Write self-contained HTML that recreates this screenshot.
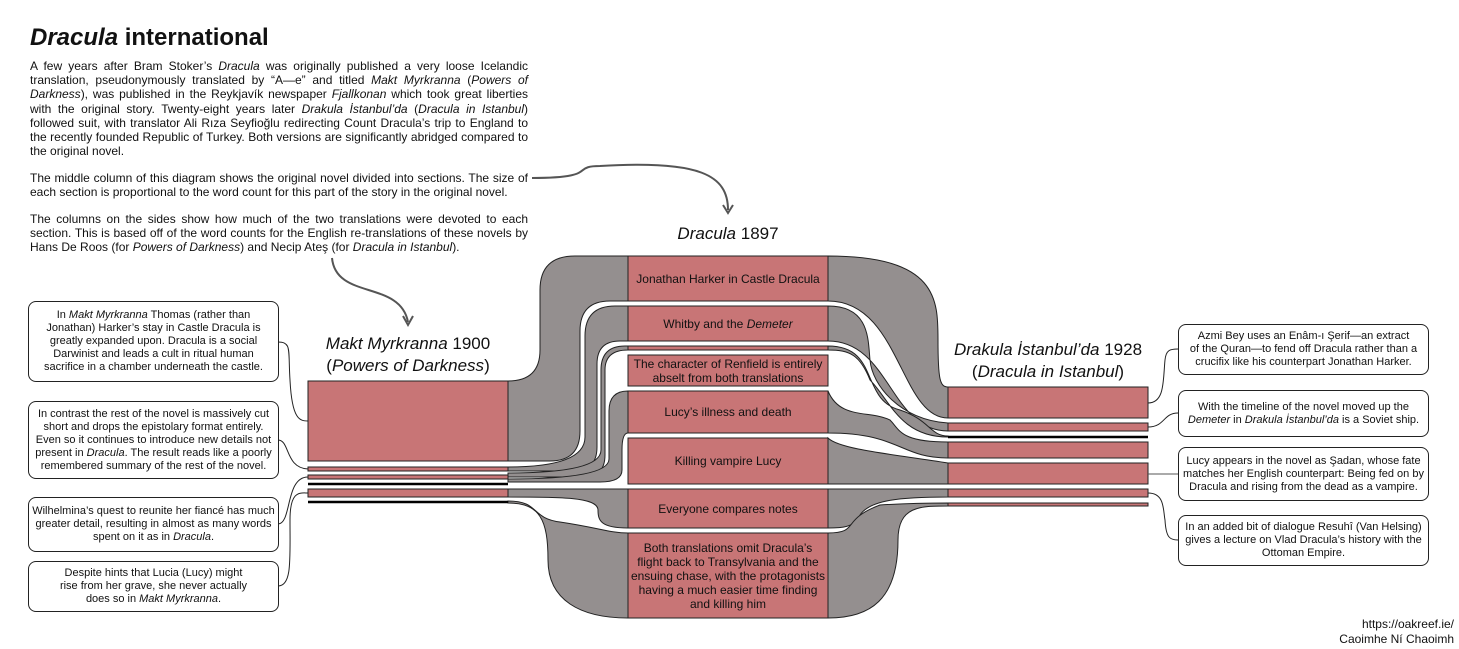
<!DOCTYPE html>
<html><head><meta charset="utf-8"><style>
body{margin:0;background:#fff;width:1459px;height:649px;overflow:hidden;font-family:"Liberation Sans",Arial,sans-serif;color:#111}
.t{position:absolute;left:30px;width:498px;font-size:12px;line-height:14.2px;text-align:justify}
.note{position:absolute;width:251px;border:1px solid #222;border-radius:8px;font-size:11px;line-height:13px;text-align:center;box-sizing:border-box;display:table;padding:0 3px;background:#fff}
.note>div{display:table-cell;vertical-align:middle}
.lbl{position:absolute;text-align:center;display:flex;align-items:center;justify-content:center;line-height:14px;color:#111;font-size:12px}
h1{position:absolute;left:30px;top:24px;margin:0;font-size:24px}
.ct{position:absolute;text-align:center;font-size:17px;line-height:22px}
</style></head><body>
<svg width="1459" height="649" style="position:absolute;left:0;top:0">
<g fill="#948f8f" stroke="#222" stroke-width="1">
<path d="M508,381 Q540,381 540,350 L540,290 Q540,256 575,256 L628,256 L628,301 L610,301 Q580,301 580,331 L580,431 Q580,461 550,461 L508,461 Z"/>
<path d="M508,467 Q585,467 585,437 L585,336 Q585,306 615,306 L628,306 L628,341 L620,341 Q597,341 597,364 L597,447 Q597,471 573,471 L508,471 Z"/>
<path d="M508,473 Q601,473 601,450 L601,370 Q601,346 625,346 L628,346 L628,350 Q605,350 605,370 L605,455 Q605,477 583,477 L508,477 Z"/>
<path d="M508,479 Q609,479 609,459 L609,411 Q609,391 628,391 L628,433 Q622,433 622,450 L622,470 Q622,482 600,482 L508,482 Z"/>
<path d="M508,489 L628,489 L628,528 C600,528 598,520 598,510 C598,497 560,497 508,497 Z"/>
<path d="M508,501 C540,501 530,518 560,522 C600,528 610,533 628,533 L628,618 C580,618 548,600 548,560 C548,520 540,503 508,503 Z"/>
<path d="M828,256 C938,256 938,300 938,340 C938,380 940,387 948,387 L948,418 C900,418 900,301 828,301 Z"/>
<path d="M828,306 C870,306 868,340 870,360 C872,385 900,420 948,423 L948,431 C890,431 890,341 828,341 Z"/>
<path d="M828,346 C880,346 860,400 900,410 C930,420 930,436 948,436 L948,437 C900,437 890,400 870,380 C860,355 850,350 828,350 Z"/>
<path d="M828,391 C840,420 870,410 890,420 C900,430 900,442 948,442 L948,458 C900,458 900,433 828,433 Z"/>
<path d="M828,438 C840,450 900,455 948,463 L948,484 L828,484 Z"/>
<path d="M828,489 L948,489 L948,497 C900,497 870,500 860,515 C855,528 840,528 828,528 Z"/>
<path d="M828,533 C860,533 840,520 880,505 C910,503 930,503 948,503 L948,506 C920,506 898,506 898,540 C898,600 870,618 828,618 Z"/>
</g>
<g fill="#c87576" stroke="#222" stroke-width="1">
<rect x="628" y="256" width="200" height="45"/><rect x="628" y="306" width="200" height="35"/>
<rect x="628" y="346" width="200" height="4"/>
<rect x="628" y="355" width="200" height="31"/><rect x="628" y="391" width="200" height="42"/>
<rect x="628" y="438" width="200" height="46"/><rect x="628" y="489" width="200" height="39"/>
<rect x="628" y="533" width="200" height="85"/>
<rect x="308" y="381" width="200" height="80"/><rect x="308" y="467" width="200" height="4"/>
<rect x="308" y="475" width="200" height="4"/><rect x="308" y="489" width="200" height="8"/>
<rect x="948" y="387" width="200" height="31"/><rect x="948" y="423" width="200" height="8"/>
<rect x="948" y="442" width="200" height="16"/><rect x="948" y="463" width="200" height="21"/>
<rect x="948" y="489" width="200" height="8"/><rect x="948" y="503" width="200" height="3"/>
</g>
<g stroke="#000" stroke-width="2.5"><line x1="308" y1="484" x2="508" y2="484"/><line x1="308" y1="502" x2="508" y2="502"/><line x1="948" y1="437" x2="1148" y2="437"/></g>
<g fill="none" stroke="#222" stroke-width="1">
<path d="M278,342 C292,342 288,350 290,380 C292,420 300,421 308,421"/>
<path d="M278,440 C290,440 285,468 308,469"/>
<path d="M278,524 C292,524 285,477 308,477"/>
<path d="M278,586 C292,586 290,560 290,520 C290,490 300,493 308,493"/>
<path d="M1148,403 C1165,403 1163,380 1165,360 C1166,350 1170,349 1178,349"/>
<path d="M1148,427 C1165,427 1163,413 1178,413"/>
<path d="M1148,474 L1178,474" stroke="#555"/>
<path d="M1148,493 C1165,493 1163,510 1165,520 C1166,538 1170,540 1178,540"/>
</g>
<g fill="none" stroke="#555" stroke-width="2">
<path d="M532,178 C600,178 570,166 600,166 C700,160 728,175 728,210"/>
<path d="M723,205 L728,213 L733,205"/>
<path d="M332,258 C336,300 400,280 408,322"/>
<path d="M403,316 L408,325 L413,316"/>
</g>
</svg>
<h1><i>Dracula</i> international</h1>
<div class="t" style="top:59px">A few years after Bram Stoker’s <i>Dracula</i> was originally published a very loose Icelandic translation, pseudonymously translated by “A—e” and titled <i>Makt Myrkranna</i> (<i>Powers of Darkness</i>), was published in the Reykjavík newspaper <i>Fjallkonan</i> which took great liberties with the original story. Twenty-eight years later <i>Drakula İstanbul’da</i> (<i>Dracula in Istanbul</i>) followed suit, with translator Ali Rıza Seyfioğlu redirecting Count Dracula’s trip to England to the recently founded Republic of Turkey. Both versions are significantly abridged compared to the original novel.</div>
<div class="t" style="top:171px">The middle column of this diagram shows the original novel divided into sections. The size of each section is proportional to the word count for this part of the story in the original novel.</div>
<div class="t" style="top:212px">The columns on the sides show how much of the two translations were devoted to each section. This is based off of the word counts for the English re-translations of these novels by Hans De Roos (for <i>Powers of Darkness</i>) and Necip Ateş (for <i>Dracula in Istanbul</i>).</div>
<div class="ct" style="left:628px;width:200px;top:223px"><i>Dracula</i> 1897</div>
<div class="ct" style="left:298px;width:220px;top:333px"><i>Makt Myrkranna</i> 1900<br>(<i>Powers of Darkness</i>)</div>
<div class="ct" style="left:938px;width:220px;top:339px"><i>Drakula İstanbul’da</i> 1928<br>(<i>Dracula in Istanbul</i>)</div>
<div class="lbl" style="left:628px;width:200px;top:256px;height:45px">Jonathan Harker in Castle Dracula</div>
<div class="lbl" style="left:628px;width:200px;top:306px;height:35px"><span>Whitby and the <i>Demeter</i></span></div>
<div class="lbl" style="left:628px;width:200px;top:355px;height:31px">The character of Renfield is entirely<br>abselt from both translations</div>
<div class="lbl" style="left:628px;width:200px;top:391px;height:42px">Lucy’s illness and death</div>
<div class="lbl" style="left:628px;width:200px;top:438px;height:46px">Killing vampire Lucy</div>
<div class="lbl" style="left:628px;width:200px;top:489px;height:39px">Everyone compares notes</div>
<div class="lbl" style="left:628px;width:200px;top:533px;height:85px">Both translations omit Dracula’s<br>flight back to Transylvania and the<br>ensuing chase, with the protagonists<br>having a much easier time finding<br>and killing him</div>
<div class="note" style="left:28px;top:301px;height:81px"><div>In <i>Makt Myrkranna</i> Thomas (rather than<br>Jonathan) Harker’s stay in Castle Dracula is<br>greatly expanded upon. Dracula is a social<br>Darwinist and leads a cult in ritual human<br>sacrifice in a chamber underneath the castle.</div></div>
<div class="note" style="left:28px;top:401px;height:78px"><div>In contrast the rest of the novel is massively cut<br>short and drops the epistolary format entirely.<br>Even so it continues to introduce new details not<br>present in <i>Dracula</i>. The result reads like a poorly<br>remembered summary of the rest of the novel.</div></div>
<div class="note" style="left:28px;top:497px;height:55px"><div>Wilhelmina’s quest to reunite her fiancé has much<br>greater detail, resulting in almost as many words<br>spent on it as in <i>Dracula</i>.</div></div>
<div class="note" style="left:28px;top:561px;height:51px"><div>Despite hints that Lucia (Lucy) might<br>rise from her grave, she never actually<br>does so in <i>Makt Myrkranna</i>.</div></div>
<div class="note" style="left:1178px;top:324px;height:51px"><div>Azmi Bey uses an Enâm-ı Şerif—an extract<br>of the Quran—to fend off Dracula rather than a<br>crucifix like his counterpart Jonathan Harker.</div></div>
<div class="note" style="left:1178px;top:390px;height:47px"><div>With the timeline of the novel moved up the<br><i>Demeter</i> in <i>Drakula İstanbul’da</i> is a Soviet ship.</div></div>
<div class="note" style="left:1178px;top:447px;height:54px"><div>Lucy appears in the novel as Şadan, whose fate<br>matches her English counterpart: Being fed on by<br>Dracula and rising from the dead as a vampire.</div></div>
<div class="note" style="left:1178px;top:515px;height:51px"><div>In an added bit of dialogue Resuhî (Van Helsing)<br>gives a lecture on Vlad Dracula’s history with the<br>Ottoman Empire.</div></div>
<div style="position:absolute;right:5px;top:617px;font-size:12px;line-height:15px;text-align:right">https://oakreef.ie/<br>Caoimhe Ní Chaoimh</div>
</body></html>
